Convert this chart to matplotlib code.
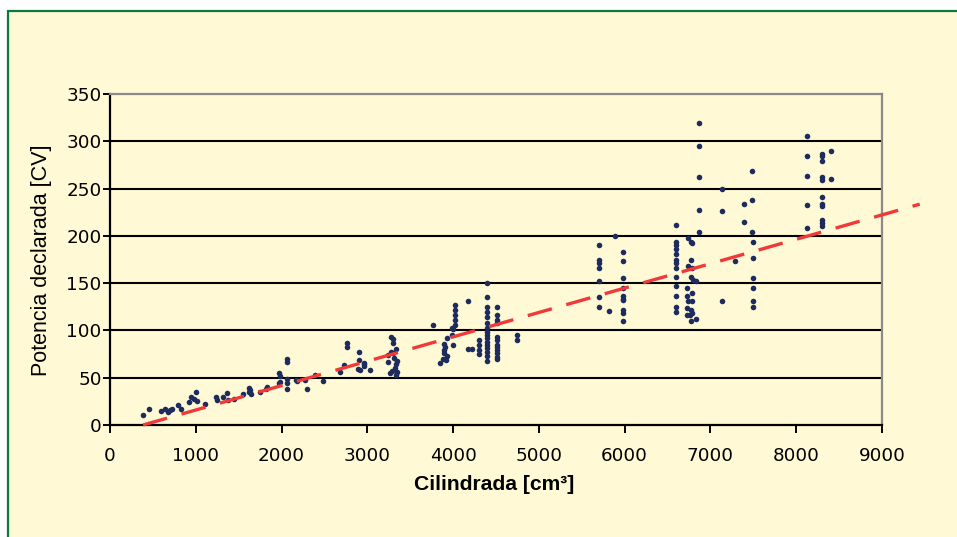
import matplotlib.pyplot as plt
from matplotlib.patches import Rectangle

# engine displacement [cm3] vs declared power [CV]
cilindrada = [
    385, 455, 600, 640, 680, 700, 720, 795, 830, 920, 945, 985, 1005, 1010,
    1110, 1235, 1245, 1320, 1365, 1375, 1450, 1555, 1620, 1640, 1620, 1630,
    1750, 1820, 1830, 1970, 1980, 1970, 1980, 2065, 2065, 2065, 2065, 2065,
    2170, 2180, 2275, 2295, 2390, 2485, 2680, 2730, 2765, 2765,
    2905, 2905, 2960, 2960, 2960, 2890, 2915, 3030,
    3275, 3295, 3305, 3240, 3240, 3260, 3280, 3300, 3310, 3330, 3350, 3340,
    3350, 3320, 3330, 3290,
    3765, 3850, 3880, 3895, 3895, 3905, 3895, 3930, 3920, 3930,
    4000, 3990, 4000, 4020, 4020, 4020, 4020, 4020, 3990,
    4175, 4175, 4220, 4300, 4300, 4300, 4300,
    4395, 4395, 4395, 4395, 4395, 4395, 4395, 4395,
    4395, 4395, 4395, 4395, 4395, 4395, 4395, 4395,
    4510, 4510, 4510, 4510, 4510, 4510, 4510, 4510, 4510, 4510, 4510, 4510,
    4745, 4745,
    5700, 5700, 5700, 5700, 5700, 5700, 5700, 5820, 5890,
    5980, 5980, 5980, 5980, 5980, 5980, 5980, 5980, 5980, 5980,
    6600, 6600, 6600, 6600, 6600, 6600, 6600, 6600, 6600, 6600, 6600, 6600, 6600,
    6735, 6770, 6790, 6770, 6740, 6790, 6770, 6800, 6830, 6725, 6785,
    6725, 6740, 6790, 6725, 6770, 6790, 6725, 6760, 6770, 6830,
    6865, 6865, 6865, 6865, 6865,
    7140, 7140, 7130, 7290, 7390, 7390,
    7480, 7480, 7480, 7495, 7495, 7495, 7495, 7495, 7495,
    8130, 8130, 8130, 8130, 8130,
    8295, 8295, 8295, 8295, 8295, 8295, 8295, 8295, 8295, 8295, 8295,
    8405, 8405,
]
potencia = [
    11, 17, 15, 17, 14, 16, 17, 21, 17, 24, 30, 27, 35, 25,
    22, 30, 26, 30, 34, 26, 28, 33, 35, 33, 39, 37,
    35, 38, 40, 55, 52, 44, 45, 49, 44, 38, 67, 70,
    48, 47, 48, 38, 53, 47, 56, 63, 87, 83,
    77, 69, 66, 64, 62, 59, 58, 58,
    93, 91, 87, 74, 67, 55, 77, 76, 71, 65, 68, 80,
    56, 60, 53, 57,
    106, 66, 70, 76, 79, 83, 86, 92, 69, 73,
    85, 95, 101, 106, 111, 116, 122, 127, 103,
    131, 80, 80, 90, 85, 79, 75,
    150, 135, 125, 120, 114, 108, 103, 98,
    95, 92, 88, 85, 81, 77, 73, 68,
    125, 116, 111, 108, 93, 90, 85, 83, 79, 76, 72, 70,
    95, 90,
    190, 175, 171, 166, 152, 135, 125, 121, 200,
    183, 173, 155, 145, 136, 133, 132, 122, 118, 110,
    211, 193, 190, 186, 181, 174, 171, 166, 157, 147, 136, 125, 120,
    198, 194, 192, 174, 168, 166, 157, 153, 152, 145, 140,
    136, 131, 131, 124, 122, 118, 116, 116, 110, 112,
    319, 295, 262, 227, 204,
    250, 226, 131, 173, 234, 215,
    269, 238, 204, 194, 177, 155, 145, 131, 125,
    306, 284, 263, 233, 208,
    287, 284, 279, 262, 259, 241, 234, 232, 217, 214, 210,
    290, 260,
]

# linear trend line end points
trend_x = [385, 9440]
trend_y = [0, 233.5]

x_ticks = list(range(0, 9001, 1000))
y_ticks = list(range(0, 351, 50))

BG = '#FFF9D5'
NAVY = '#1E2B5E'


def main():
    fig = plt.figure(figsize=(9.57, 5.37), dpi=100)
    fig.patch.set_facecolor('white')

    # cream panel with green frame
    fig.patches.append(Rectangle((8 / 957, -0.05), 1.0, 1 - 11 / 537 + 0.05,
                                 transform=fig.transFigure, facecolor=BG,
                                 edgecolor='#0B7A3E', linewidth=1.6, zorder=-5))

    ax = fig.add_axes([110 / 957, 1 - 425 / 537, 772 / 957, 331 / 537])
    ax.set_zorder(2)
    ax.set_facecolor(BG)
    ax.set_xlim(0, 9000)
    ax.set_ylim(0, 350)
    ax.set_xticks(x_ticks)
    ax.set_yticks(y_ticks)

    for y in y_ticks[1:-1]:
        ax.axhline(y, color='black', linewidth=1.5, zorder=1)

    ax.scatter(cilindrada, potencia, s=16, color=NAVY, linewidths=0, zorder=3)
    ax.plot(trend_x, trend_y, color='#F03A3A', linewidth=2.4,
            dashes=(7.5, 4.5), clip_on=False, zorder=4)

    for side in ('left', 'bottom'):
        ax.spines[side].set_color('black')
        ax.spines[side].set_linewidth(1.6)
    for side in ('top', 'right'):
        ax.spines[side].set_color('#8A8A8A')
        ax.spines[side].set_linewidth(1.6)

    ax.tick_params(axis='y', length=5, width=1.4, pad=1, labelsize=13.2)
    ax.tick_params(axis='x', length=6, width=1.4, pad=9.5, labelsize=13.2)

    fig.text(494 / 957, 1 - 485 / 537, 'Cilindrada [cm³]', ha='center', va='center',
             fontsize=15.2, fontweight='bold', family='Liberation Sans')
    fig.text(42 / 957, 1 - 260 / 537, 'Potencia declarada [CV]', rotation=90,
             ha='center', va='center', fontsize=15.5, family='Liberation Sans')

    fig.savefig('out.png', dpi=100, facecolor=fig.get_facecolor())


if __name__ == '__main__':
    main()
